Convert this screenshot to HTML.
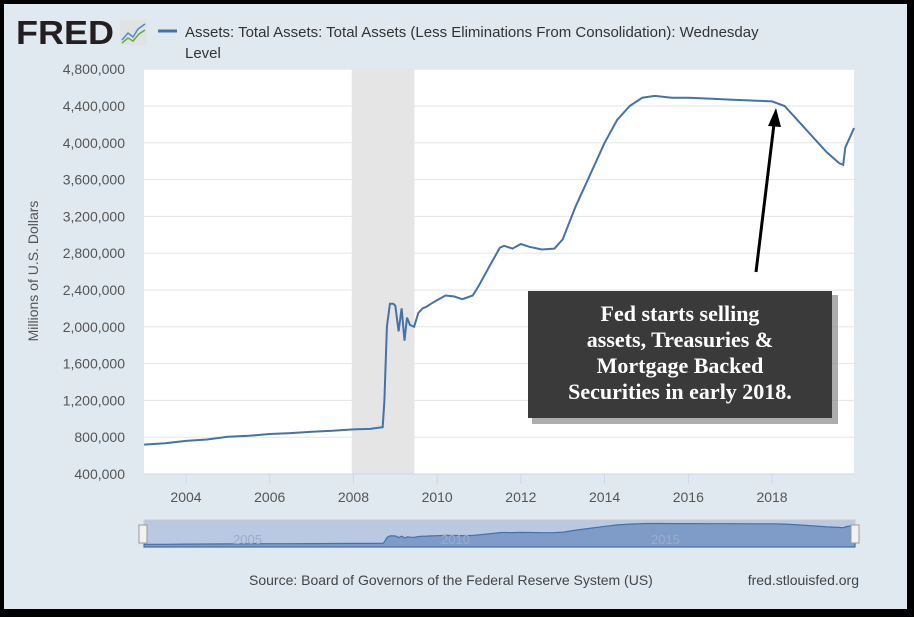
<!DOCTYPE html>
<html><head><meta charset="utf-8"><style>
body{margin:0;width:914px;height:617px;overflow:hidden;background:#000;font-family:"Liberation Sans",sans-serif}
#frame{position:absolute;left:4px;top:4px;width:903px;height:605px;background:#e1e9f0}
</style></head><body>
<div id="frame"></div>
<svg id="c" width="914" height="617" style="position:absolute;left:0;top:0">
<text x="16" y="44" font-size="33" font-weight="bold" fill="#231f20" textLength="98" lengthAdjust="spacingAndGlyphs" font-family="Liberation Sans, sans-serif">FRED</text>
<g><rect x="120" y="20" width="27" height="25" fill="#dfe3e6" rx="2"/><polyline points="122,40 128,33 133,37 138,29 145,24" fill="none" stroke="#4f8ac2" stroke-width="1.5"/><polyline points="122,43 128,38 133,41 139,34 145,30" fill="none" stroke="#6aaa3a" stroke-width="1.5"/></g>
<line x1="158" y1="31" x2="177" y2="31" stroke="#4572a7" stroke-width="3"/>
<text x="185" y="37" font-size="15" fill="#333">Assets: Total Assets: Total Assets (Less Eliminations From Consolidation): Wednesday</text>
<text x="185" y="58" font-size="15" fill="#333">Level</text>
<rect x="144" y="69" width="710" height="405" fill="#fff"/>
<g id="grid"></g>
<rect id="rec" fill="#e5e5e5"/>
<g id="ylabels"></g><g id="xlabels"></g>
<path id="line" fill="none" stroke="#4572a7" stroke-width="2"/>
<text transform="translate(38,271) rotate(-90)" text-anchor="middle" font-size="14" fill="#555">Millions of U.S. Dollars</text>
<g>
<rect x="144" y="520" width="711" height="27" fill="#bac8e1" stroke="#ccc"/>
<path id="nav" fill="#7f9cc8" stroke="#4572a7" stroke-width="1.2"/>
<text x="233" y="544" font-size="13" fill="#9aaccc">2005</text><text x="441" y="544" font-size="13" fill="#9aaccc">2010</text><text x="651" y="544" font-size="13" fill="#9aaccc">2015</text>
<rect x="139" y="525" width="8" height="18" fill="#f2f2f2" stroke="#999"/>
<rect x="851" y="525" width="8" height="18" fill="#f2f2f2" stroke="#999"/>
</g>
<text x="249" y="585" font-size="14" fill="#444">Source: Board of Governors of the Federal Reserve System (US)</text>
<text x="859" y="585" text-anchor="end" font-size="14" fill="#444">fred.stlouisfed.org</text>
<g>
<line x1="756" y1="272" x2="774" y2="124" stroke="#000" stroke-width="3"/>
<polygon points="776,108 768,126 781,127" fill="#000"/></g>
<rect x="532" y="295" width="306" height="129" fill="#777" opacity="0.6"/>
<rect x="528" y="291" width="304" height="127" fill="#3a3a3a"/>
<g font-family="Liberation Serif, serif" font-weight="bold" font-size="22" fill="#fff" text-anchor="middle">
<text x="680" y="321">Fed starts selling</text><text x="680" y="347">assets, Treasuries &amp;</text><text x="680" y="373">Mortgage Backed</text><text x="680" y="399">Securities in early 2018.</text></g>
</svg>
<script>
const years=[2003.0,2003.5,2004.0,2004.5,2005.0,2005.5,2006.0,2006.5,2007.0,2007.5,2008.0,2008.4,2008.7,2008.74,2008.8,2008.87,2008.95,2009.0,2009.08,2009.15,2009.22,2009.28,2009.35,2009.45,2009.55,2009.65,2009.75,2009.85,2010.0,2010.2,2010.4,2010.6,2010.85,2011.0,2011.3,2011.5,2011.6,2011.8,2012.0,2012.2,2012.5,2012.8,2013.0,2013.3,2013.6,2014.0,2014.3,2014.6,2014.9,2015.2,2015.6,2016.0,2016.5,2017.0,2017.5,2018.0,2018.3,2018.6,2019.0,2019.3,2019.6,2019.7,2019.75,2019.85,2019.96];
const values=[720,735,760,775,805,815,835,845,860,870,885,890,910,1200,2000,2250,2250,2230,1950,2200,1850,2100,2020,2000,2150,2200,2220,2250,2290,2340,2330,2300,2340,2450,2700,2860,2880,2850,2900,2870,2840,2850,2950,3300,3600,4000,4250,4400,4490,4510,4490,4490,4480,4470,4460,4450,4400,4250,4050,3900,3780,3760,3950,4050,4160];
const yTicks=[400,800,1200,1600,2000,2400,2800,3200,3600,4000,4400,4800];
const xTicks=[2004,2006,2008,2010,2012,2014,2016,2018];
const recession=[2007.96,2009.46];
const X=t=>186+(t-2004)*41.86, Y=v=>474-(v-400)/400*36.8;
const ns="http://www.w3.org/2000/svg";
const g=document.getElementById('grid'),yl=document.getElementById('ylabels'),xl=document.getElementById('xlabels');
yTicks.forEach(v=>{
 const l=document.createElementNS(ns,'line');l.setAttribute('x1',144);l.setAttribute('x2',854);l.setAttribute('y1',Y(v));l.setAttribute('y2',Y(v));l.setAttribute('stroke','#e6e6e6');
 
 
 g.appendChild(l);
 const t=document.createElementNS(ns,'text');t.setAttribute('x',125);t.setAttribute('y',Y(v)+5);t.setAttribute('text-anchor','end');t.setAttribute('font-size','14');t.setAttribute('fill','#555');
 t.textContent=(v*1000).toLocaleString('en-US');
 
 
 yl.appendChild(t);});
xTicks.forEach(y=>{
 const l=document.createElementNS(ns,'line');l.setAttribute('x1',X(y));l.setAttribute('x2',X(y));l.setAttribute('y1',474);l.setAttribute('y2',484);l.setAttribute('stroke','#ccd6eb');
 
 
 xl.appendChild(l);
 const t=document.createElementNS(ns,'text');t.setAttribute('x',X(y));t.setAttribute('y',502);t.setAttribute('text-anchor','middle');t.setAttribute('font-size','14');t.setAttribute('fill','#555');t.textContent=y;
 
 
 xl.appendChild(t);});
const ax=document.createElementNS(ns,'line');ax.setAttribute('x1',144);ax.setAttribute('x2',854);ax.setAttribute('y1',474);ax.setAttribute('y2',474);ax.setAttribute('stroke','#ccd6eb');


xl.appendChild(ax);
const r=document.getElementById('rec');r.setAttribute('x',X(recession[0]));r.setAttribute('width',X(recession[1])-X(recession[0]));r.setAttribute('y',69);r.setAttribute('height',405);
document.getElementById('line').setAttribute('d',years.map((t,i)=>(i?'L':'M')+X(t).toFixed(1)+','+Y(values[i]).toFixed(1)).join(''));
const NX=t=>144+(t-2003)/(2019.96-2003)*711, NY=v=>545-(v-600)/(4600-600)*22;
document.getElementById('nav').setAttribute('d','M144,547'+years.map((t,i)=>'L'+NX(t).toFixed(1)+','+NY(values[i]).toFixed(1)).join('')+'L855,547Z');
</script>
</body></html>
